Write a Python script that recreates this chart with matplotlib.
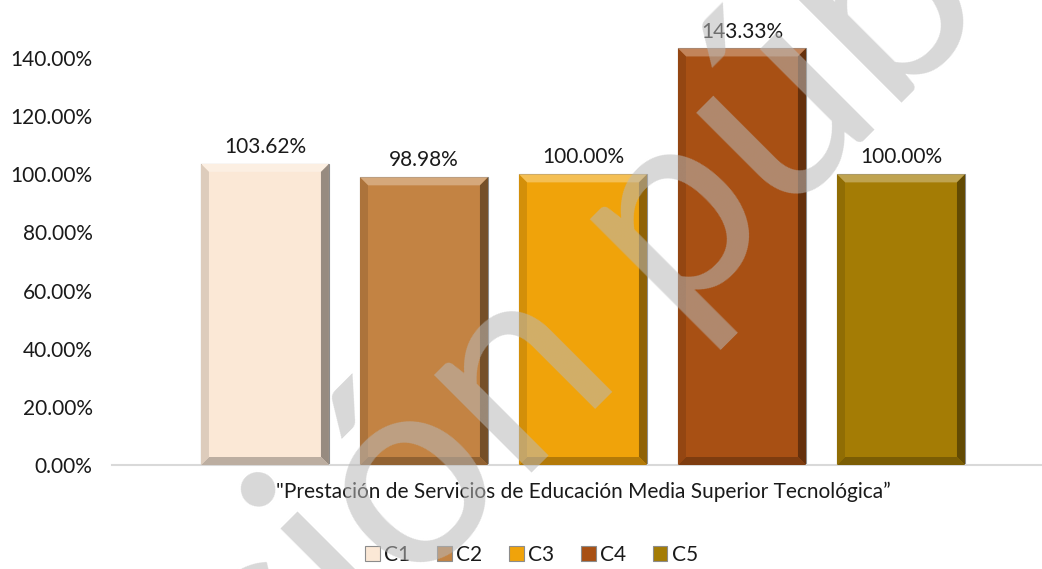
import numpy as np
import matplotlib.pyplot as plt
from matplotlib.patches import Polygon
from matplotlib.ticker import FuncFormatter
from matplotlib.colors import to_rgb

plt.rcParams['font.family'] = ['Lato', 'DejaVu Sans']

series = ['C1', 'C2', 'C3', 'C4', 'C5']
values = [103.62, 98.98, 100.00, 143.33, 100.00]
colors = ['#FBE8D6', '#C38343', '#F0A30A', '#A85014', '#A47C05']
category = '"Prestación de Servicios de Educación Media Superior Tecnológica”'
yticks = [0, 20, 40, 60, 80, 100, 120, 140]
text_color = '#1a1a1a'


def mix(c, other, t):
    c = np.array(to_rgb(c))
    return tuple(c * (1 - t) + np.array(other) * t)


fig = plt.figure(figsize=(10.42, 5.69), dpi=100)
ax = fig.add_axes([112 / 1042, 104 / 569, 930 / 1042, 465 / 569])

x = np.arange(len(series))
width = 0.805
bars = ax.bar(x, values, width=width, color=colors, edgecolor='#8c8c8c',
              linewidth=0.8, label=series, zorder=2)

ax.set_ylim(0, 160)
ax.set_xlim(-0.962, 4.887)

# bevel: px -> data units
p0 = ax.transData.transform((0, 0))
p1 = ax.transData.transform((1, 1))
bx = 8 / (p1[0] - p0[0])
by = 8 / (p1[1] - p0[1])

for xi, v, c in zip(x, values, colors):
    l, r = xi - width / 2, xi + width / 2
    faces = [
        ([(l, v), (r, v), (r - bx, v - by), (l + bx, v - by)], mix(c, (1, 1, 1), 0.3)),
        ([(r, v), (r, 0), (r - bx, by), (r - bx, v - by)], mix(c, (0, 0, 0), 0.4)),
        ([(l, 0), (r, 0), (r - bx, by), (l + bx, by)], mix(c, (0, 0, 0), 0.25)),
        ([(l, 0), (l, v), (l + bx, v - by), (l + bx, by)], mix(c, (0, 0, 0), 0.12)),
    ]
    for pts, fc in faces:
        ax.add_patch(Polygon(pts, closed=True, facecolor=fc, edgecolor='none', zorder=3))

for xi, v in zip(x, values):
    ax.annotate(f'{v:.2f}%', (xi, v), xytext=(0, 5), textcoords='offset points',
                ha='center', va='bottom', fontsize=15, color=text_color)

ax.set_yticks(yticks)
ax.yaxis.set_major_formatter(FuncFormatter(lambda v, p: f'{v:.2f}%'))
ax.tick_params(axis='y', length=0, pad=14, labelsize=15, labelcolor=text_color)
ax.set_xticks([])
for s in ['top', 'right', 'left']:
    ax.spines[s].set_visible(False)
ax.spines['bottom'].set_color('#d9d9d9')
ax.spines['bottom'].set_linewidth(1.5)

ax.text(2, -27 / 465, category, transform=ax.get_xaxis_transform(),
        ha='center', va='center', fontsize=15, color=text_color)

fig.legend(handles=bars.patches, labels=series, loc='center', bbox_to_anchor=(0.51, 0.025),
           ncol=5, frameon=False, handlelength=0.7, handleheight=0.7,
           handletextpad=0.2, columnspacing=1.3, fontsize=15, labelcolor=text_color)

# watermark
fig.text(0.602, 0.336, 'Versión pública', rotation=45, fontsize=195,
         color='#b8b8b8', alpha=0.55,
         ha='center', va='baseline', rotation_mode='anchor', zorder=10)

fig.savefig('out.png', dpi=100)
